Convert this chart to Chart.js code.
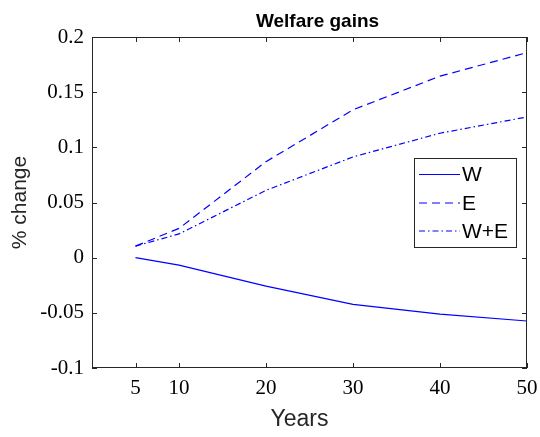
<!DOCTYPE html>
<html>
<head>
<meta charset="utf-8">
<script src="https://cdn.jsdelivr.net/npm/chart.js@4"></script>
<style>
  html, body { margin: 0; padding: 0; background: #fff; }
  #wrap { width: 540px; height: 437px; }
</style>
</head>
<body>
<div id="wrap"><canvas id="myChart" width="540" height="437"></canvas></div>
<script>
// data
const years = [5, 10, 20, 30, 40, 50];
const welfareW = [0.0, -0.0068, -0.0258, -0.0424, -0.0511, -0.0574];
const welfareE = [0.0105, 0.0265, 0.0870, 0.1340, 0.1645, 0.1858];
const welfareWE = [0.0105, 0.0215, 0.0610, 0.0913, 0.1128, 0.1275];
const seriesNames = ['W', 'E', 'W+E'];
const xTicks = [5, 10, 20, 30, 40, 50];
const yTicks = [-0.1, -0.05, 0, 0.05, 0.1, 0.15, 0.2];
const yTickLabels = ['-0.1', '-0.05', '0', '0.05', '0.1', '0.15', '0.2'];

const blue = '#0000ff';
const boxColor = '#262626';
const sans = "'Liberation Sans', Arial, sans-serif";
const serif = "'Liberation Serif', 'Times New Roman', serif";

const toPoints = ys => years.map((x, i) => ({ x: x, y: ys[i] }));

// box, inward ticks, titles and legend like the matlab figure
const matlabBox = {
  id: 'matlabBox',
  afterDraw(chart) {
    const ctx = chart.ctx;
    const a = chart.chartArea;
    const xs = chart.scales.x, ys = chart.scales.y;
    ctx.save();
    ctx.strokeStyle = boxColor;
    ctx.lineWidth = 1;
    ctx.strokeRect(a.left + 0.5, a.top + 0.5, a.right - a.left - 1, a.bottom - a.top - 1);
    ctx.beginPath();
    xTicks.forEach(v => {
      const px = Math.round(xs.getPixelForValue(v)) + 0.5;
      ctx.moveTo(px, a.bottom); ctx.lineTo(px, a.bottom - 5);
      ctx.moveTo(px, a.top); ctx.lineTo(px, a.top + 5);
    });
    yTicks.forEach(v => {
      const py = Math.round(ys.getPixelForValue(v)) + 0.5;
      ctx.moveTo(a.left, py); ctx.lineTo(a.left + 5, py);
      ctx.moveTo(a.right, py); ctx.lineTo(a.right - 5, py);
    });
    ctx.stroke();

    // title
    ctx.fillStyle = '#000';
    ctx.font = 'bold 19px ' + sans;
    ctx.textAlign = 'center';
    ctx.textBaseline = 'alphabetic';
    ctx.fillText('Welfare gains', (a.left + a.right) / 2 + 8, 27);

    // x axis label
    ctx.fillStyle = '#262626';
    ctx.font = '23px ' + sans;
    ctx.textBaseline = 'middle';
    ctx.fillText('Years', (a.left + a.right) / 2 - 10, 420);

    // legend
    const lx = 414, ly = 158, lw = 102, lh = 89;
    ctx.fillStyle = '#fff';
    ctx.fillRect(lx, ly, lw, lh);
    ctx.strokeStyle = boxColor;
    ctx.strokeRect(lx + 0.5, ly + 0.5, lw, lh);
    const rows = [174.5, 203, 231];
    chart.data.datasets.forEach((ds, i) => {
      ctx.strokeStyle = ds.borderColor;
      ctx.lineWidth = ds.borderWidth;
      ctx.setLineDash(ds.borderDash || []);
      ctx.beginPath();
      ctx.moveTo(419, rows[i]); ctx.lineTo(460, rows[i]);
      ctx.stroke();
      ctx.setLineDash([]);
      ctx.fillStyle = '#000';
      ctx.font = '21px ' + sans;
      ctx.textAlign = 'left';
      ctx.textBaseline = 'middle';
      ctx.fillText(ds.label, 462, rows[i] + 1);
    });
    ctx.restore();
  }
};

const ctx = document.getElementById('myChart');

new Chart(ctx, {
  type: 'line',
  data: {
    datasets: [{
      label: seriesNames[0],
      data: toPoints(welfareW),
      borderColor: blue,
      borderWidth: 1.2,
      pointRadius: 0,
      tension: 0
    }, {
      label: seriesNames[1],
      data: toPoints(welfareE),
      borderColor: blue,
      borderWidth: 1.2,
      borderDash: [8, 5],
      pointRadius: 0,
      tension: 0
    }, {
      label: seriesNames[2],
      data: toPoints(welfareWE),
      borderColor: blue,
      borderWidth: 1.2,
      borderDash: [6, 3, 1.5, 3],
      pointRadius: 0,
      tension: 0
    }]
  },
  options: {
    responsive: false,
    animation: false,
    layout: { padding: { top: 37, right: 13, left: 0, bottom: 0 } },
    plugins: {
      legend: { display: false },
      title: { display: false },
      tooltip: { enabled: false }
    },
    scales: {
      x: {
        type: 'linear',
        min: 0,
        max: 50,
        afterBuildTicks: scale => { scale.ticks = xTicks.map(v => ({ value: v })); },
        afterFit: scale => {
          scale.height = 69;
          scale.paddingLeft = 0;
          scale.paddingRight = 0;
        },
        grid: { display: false, drawTicks: false },
        border: { display: false },
        ticks: {
          color: '#000',
          padding: 8,
          maxRotation: 0,
          autoSkip: false,
          font: { family: serif, size: 21 },
          callback: v => String(v)
        }
      },
      y: {
        min: -0.1,
        max: 0.2,
        afterBuildTicks: scale => { scale.ticks = yTicks.map(v => ({ value: v })); },
        afterFit: scale => { scale.width = 92; },
        grid: { display: false, drawTicks: false },
        border: { display: false },
        ticks: {
          color: '#000',
          padding: 8,
          autoSkip: false,
          font: { family: serif, size: 21 },
          callback: (v, i) => yTickLabels[i]
        },
        title: {
          display: true,
          text: '% change',
          color: '#262626',
          font: { family: sans, size: 21 },
          padding: { top: 8, bottom: 0 }
        }
      }
    }
  },
  plugins: [matlabBox]
});
</script>
</body>
</html>
